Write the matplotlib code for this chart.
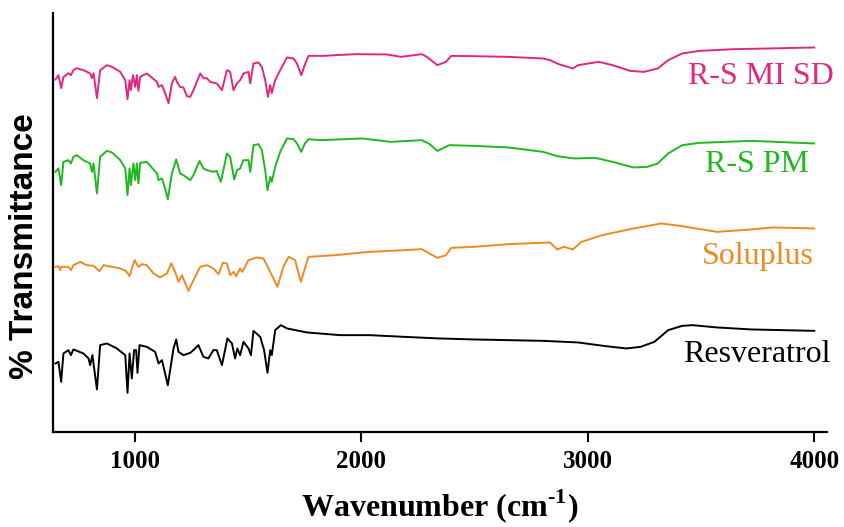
import matplotlib
matplotlib.use("Agg")
import matplotlib.pyplot as plt

# FTIR spectra, wavenumber (cm-1) and offset transmittance (arbitrary units)
wn_resv = [650, 663, 675, 685, 707, 718, 729, 773, 796, 803, 813, 833, 847, 877, 921, 958, 968, 977,
           987, 997, 1006, 1012, 1021, 1053, 1090, 1105, 1120, 1146, 1171, 1183, 1193, 1215, 1245,
           1262, 1281, 1303, 1325, 1347, 1362, 1385, 1409, 1429, 1443, 1453, 1465, 1480, 1502, 1513,
           1524, 1554, 1571, 1586, 1598, 1605, 1620, 1645, 1672, 1760, 1907, 2037, 2190, 2343, 2497,
           2650, 2803, 2957, 3079, 3171, 3233, 3294, 3355, 3417, 3463, 3570, 3723, 4000]
t_resv = [68.7, 70.3, 50.3, 78.7, 82, 77, 82.7, 78.7, 73.7, 67, 77, 42.7, 87, 88.7, 83.7, 77, 39.3, 78.7,
          53.7, 82, 82, 59.3, 87, 85.3, 80.3, 68.7, 72, 47, 83.7, 92.7, 80.3, 77, 79.3,
          82.7, 87, 75.3, 73.7, 82, 82, 67, 93.7, 88.7, 73.7, 83.7, 77, 90.3, 83.7, 77,
          101.3, 95.3, 82, 59.3, 82, 77, 102, 107, 103.7, 99.7, 97, 97, 95.3, 93.7, 92.7,
          92, 91.3, 89.7, 86, 83.7, 85.3, 90.3, 102, 106.3, 107, 104.7, 102.7, 101.3]

wn_solu = [650, 663, 671, 675, 707, 719, 729, 759, 788, 818, 844, 862, 899, 936, 962, 977, 999, 1016,
           1031, 1053, 1083, 1112, 1142, 1161, 1178, 1193, 1208, 1237, 1259, 1289, 1318, 1347, 1370,
           1389, 1407, 1421, 1436, 1448, 1465, 1475, 1502, 1539, 1568, 1598, 1630, 1656, 1679, 1708,
           1733, 1753, 1767, 1883, 2037, 2190, 2267, 2336, 2374, 2397, 2497, 2650, 2834, 2865, 2895,
           2934, 2972, 3064, 3187, 3325, 3417, 3570, 3723, 3815, 4000]
t_solu = [165.3, 166, 162, 165.3, 165.3, 162, 167, 170.3, 167, 166.3, 161, 167, 165.3, 163.7, 161, 156, 172, 165.3,
          168, 167, 158.7, 154.7, 158.7, 168.7, 160.3, 150.3, 157, 141.3, 152, 165.3, 167, 163.7, 158,
          169.3, 168.7, 157, 160.3, 156, 163.7, 160.3, 172, 174.7, 173.7, 160.3, 145.3, 165.3, 175.3, 172,
          150.3, 165.3, 175.3, 177, 180.3, 182, 183, 174.3, 177, 184.3, 185.3, 188, 189.7, 182.7, 185.3,
          182.7, 190.3, 197, 203, 208.7, 206, 200.3, 202.7, 204.7, 203.7]

wn_pm = [650, 663, 675, 685, 707, 718, 729, 744, 773, 803, 811, 818, 833, 847, 877, 899, 936, 958, 968,
         977, 983, 994, 1002, 1009, 1016, 1024, 1053, 1098, 1105, 1120, 1134, 1146, 1164, 1183, 1200,
         1215, 1245, 1259, 1286, 1303, 1318, 1347, 1362, 1380, 1407, 1421, 1439, 1451, 1465, 1480,
         1502, 1510, 1524, 1546, 1561, 1576, 1586, 1598, 1605, 1620, 1642, 1672, 1701, 1716, 1735,
         1751, 1767, 1822, 2006, 2129, 2267, 2298, 2336, 2389, 2497, 2650, 2803, 2865, 2941, 3033,
         3110, 3202, 3263, 3309, 3355, 3417, 3493, 3723, 4000]
t_pm = [260.3, 263.7, 247, 270.3, 272, 268.7, 275.3, 277, 272, 268.7, 260.3, 268.7, 238.7, 275.3, 281.3, 279.7, 272, 263.7, 237,
        263.7, 247, 268.7, 252, 268.7, 248.7, 269.3, 270.3, 258.7, 252, 253.7, 243.7, 233, 258.7, 272.7, 258.7,
        257, 252, 257, 271.3, 263.7, 262, 260.3, 261.3, 250.3, 278.7, 275.3, 252.7, 262, 263.7, 272,
        272, 260.3, 287, 288, 282, 262, 242, 255.3, 250.3, 265.3, 280.3, 293.7, 293, 288.7, 280.3,
        288.7, 293, 292, 293.7, 290.3, 292, 288.7, 281.3, 287, 286.3, 284.7, 280.3, 276, 273.7, 274.3,
        270.3, 264.7, 265.3, 268.7, 278.7, 287, 289.3, 291.3, 288.7]

wn_sd = [650, 663, 675, 685, 707, 718, 729, 744, 781, 803, 811, 818, 833, 847, 877, 899, 936, 958, 968,
         977, 983, 992, 1002, 1009, 1016, 1024, 1053, 1098, 1105, 1120, 1134, 1149, 1164, 1178, 1186,
         1200, 1215, 1230, 1245, 1259, 1289, 1303, 1318, 1333, 1362, 1385, 1407, 1421, 1436, 1451,
         1465, 1480, 1502, 1510, 1524, 1546, 1561, 1576, 1588, 1598, 1605, 1620, 1642, 1672, 1701,
         1716, 1735, 1753, 1767, 1833, 1883, 1976, 2113, 2175, 2267, 2290, 2336, 2374, 2397, 2497,
         2650, 2803, 2834, 2872, 2934, 2957, 3003, 3049, 3110, 3187, 3248, 3309, 3355, 3417, 3493,
         3646, 3800, 4000]
t_sd = [352.7, 357, 344, 355, 359, 357, 362, 364, 361.3, 358.7, 354, 359, 334, 362, 367, 365.3, 360.3, 352, 333,
        352, 342, 357, 345.3, 357, 341.3, 355.3, 358.7, 350.3, 345.3, 347, 339, 329, 349, 355.3, 350.3,
        345.3, 344.7, 336, 335.3, 342, 358.7, 354, 354, 350.3, 348.7, 342, 362, 360.3, 342, 348.7,
        352, 358.7, 360.3, 348.7, 368.7, 369.7, 365.3, 352, 335.3, 347, 339, 352, 362, 374.7, 373.7,
        368.7, 357, 368.7, 376.3, 376.3, 377, 378, 377.7, 375.3, 378, 375.3, 367, 370.3, 376.3, 376,
        375.3, 373.7, 372, 368, 363.7, 367, 368.7, 370.3, 367, 361.3, 360.3, 363.7, 372, 378.7, 381.3,
        383, 383.7, 384.7]

series = [
    (wn_resv, t_resv, "black", "Resveratrol", 3745, 70),
    (wn_solu, t_solu, "#ee8a22", "Soluplus", 3752, 168),
    (wn_pm, t_pm, "#1fb81f", "R-S PM", 3745, 260),
    (wn_sd, t_sd, "#e0287f", "R-S MI SD", 3765, 348),
]

plt.rcParams['mathtext.fontset'] = 'custom'
plt.rcParams['mathtext.rm'] = 'Liberation Serif:bold'

fig = plt.figure(figsize=(8.44, 5.27), dpi=100)
ax = fig.add_axes([0.0628, 0.18, 0.917, 0.795])

for wn, t, col, name, lx, ly in series:
    ax.plot(wn, t, color=col, lw=1.4)
    ax.text(lx, ly, name, color=col, family="Liberation Serif", fontsize=23,
            ha="center", va="baseline")

ax.set_xlim(639, 4056)
ax.set_ylim(0, 419)
ax.set_xticks([1000, 2000, 3000, 4000])
ax.set_yticks([])
for lab in ax.get_xticklabels():
    lab.set_family("Liberation Serif")
    lab.set_fontweight("bold")
    lab.set_fontsize(18)
ax.tick_params(axis='x', length=7, width=1.5, pad=6)
ax.spines['right'].set_visible(False)
ax.spines['top'].set_visible(False)
ax.spines['left'].set_linewidth(1.6)
ax.spines['bottom'].set_linewidth(1.6)

ax.set_xlabel(r"Wavenumber (cm$^{\text{-1}}$)", family="Liberation Serif",
              fontweight="bold", fontsize=23, labelpad=10)
fig.text(25 / 844, 1 - 246 / 527, "% Transmittance", family="Liberation Sans",
         fontweight="bold", fontsize=24, rotation=90, ha="center", va="center")

plt.savefig("out.png")
